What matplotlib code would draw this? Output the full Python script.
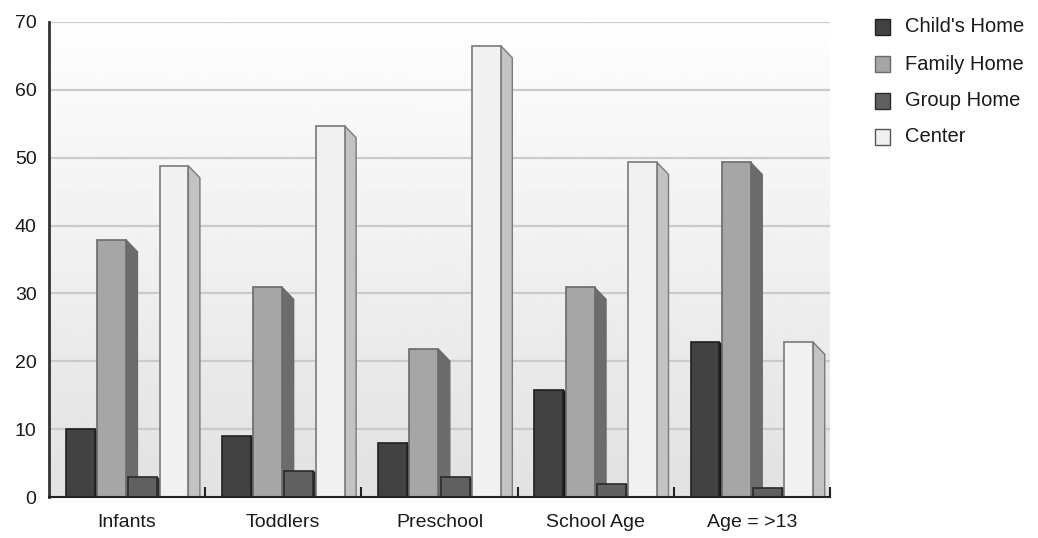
import numpy as np
import matplotlib
matplotlib.use("Agg")
import matplotlib.pyplot as plt
from matplotlib.patches import Polygon, Rectangle

categories = ["Infants", "Toddlers", "Preschool", "School Age", "Age = >13"]
series_names = ["Child's Home", "Family Home", "Group Home", "Center"]
childs_home = [10, 9, 8, 15.8, 22.8]
family_home = [37.9, 30.9, 21.8, 30.9, 49.3]
group_home = [2.9, 3.8, 2.9, 1.9, 1.4]
center = [48.8, 54.7, 66.5, 49.3, 22.8]
y_ticks = [0, 10, 20, 30, 40, 50, 60, 70]

series = [childs_home, family_home, group_home, center]
front_colors = ["#424242", "#a6a6a6", "#606060", "#f1f1f1"]
side_colors = ["#151515", "#6c6c6c", "#2c2c2c", "#c3c3c3"]
edge_colors = ["#202020", "#6a6a6a", "#2a2a2a", "#7a7a7a"]

plt.rcParams["font.family"] = ["Liberation Sans", "DejaVu Sans"]

W, H = 1038, 538
fig = plt.figure(figsize=(W / 100, H / 100), dpi=100)
fig.patch.set_facecolor("white")

x0, x1, y_top, y_bot = 49, 830, 22, 497
ax = fig.add_axes([x0 / W, (H - y_bot) / H, (x1 - x0) / W, (y_bot - y_top) / H])
ax.set_xlim(-0.5, len(categories) - 0.5)
ax.set_ylim(0, 70)

# vertical gradient background of the plotting area
grad = np.linspace(0.885, 0.995, 256).reshape(-1, 1)
ax.imshow(grad, extent=[-0.5, len(categories) - 0.5, 0, 70], origin="lower",
          cmap="gray", vmin=0, vmax=1, aspect="auto", zorder=0)

for t in y_ticks[1:]:
    ax.axhline(t, color="#cbcbcb", lw=1.6, zorder=1)

# pixel-based depth of the pseudo-3D bars, converted to data units
px_per_x = (x1 - x0) / len(categories)
px_per_y = (y_bot - y_top) / 70
dx = 11.5 / px_per_x
dy = 12.0 / px_per_y

slot = 0.2
width = 0.185
offsets = [-1.5, -0.5, 0.5, 1.5]

z = 2
for ci in range(len(categories)):
    for si, vals in enumerate(series):
        v = vals[ci]
        xc = ci + offsets[si] * slot
        left = xc - width / 2
        right = xc + width / 2
        side = Polygon([(right, v), (right + dx, v - dy), (right + dx, 0), (right, 0)],
                       closed=True, facecolor=side_colors[si], edgecolor=edge_colors[si],
                       lw=1.0, zorder=z)
        ax.add_patch(side)
        front = Rectangle((left, 0), width, v, facecolor=front_colors[si],
                          edgecolor=edge_colors[si], lw=1.2, zorder=z + 0.5)
        ax.add_patch(front)
        z += 1

for s in ["top", "right"]:
    ax.spines[s].set_visible(False)
ax.spines["left"].set_color("#333333")
ax.spines["left"].set_linewidth(2.0)
ax.spines["bottom"].set_color("#222222")
ax.spines["bottom"].set_linewidth(1.5)
ax.spines["left"].set_zorder(100)
ax.spines["bottom"].set_zorder(100)

ax.set_yticks(y_ticks)
ax.set_yticklabels([str(t) for t in y_ticks], fontsize=14, color="#1a1a1a")
ax.tick_params(axis="y", length=0, pad=9)

ax.set_xticks(range(len(categories)))
ax.set_xticklabels(categories, fontsize=14, color="#1a1a1a")
ax.tick_params(axis="x", which="major", length=0, pad=12)
ax.set_xticks([i + 0.5 for i in range(len(categories))], minor=True)
ax.tick_params(axis="x", which="minor", direction="in", length=7, width=1.5,
               color="#222222")

# legend
leg_rows = [27, 64, 101, 137]
sq = 15
for si, name in enumerate(series_names):
    yc = leg_rows[si]
    fig.patches.append(Rectangle((875 / W, (H - yc - sq / 2) / H), sq / W, sq / H,
                                 transform=fig.transFigure, facecolor=front_colors[si],
                                 edgecolor=edge_colors[si] if si != 3 else "#555555",
                                 lw=1.0))
    fig.text(905 / W, (H - yc) / H, name, fontsize=14.5, color="#1a1a1a",
             va="center", ha="left")

fig.savefig("out.png", dpi=100)
